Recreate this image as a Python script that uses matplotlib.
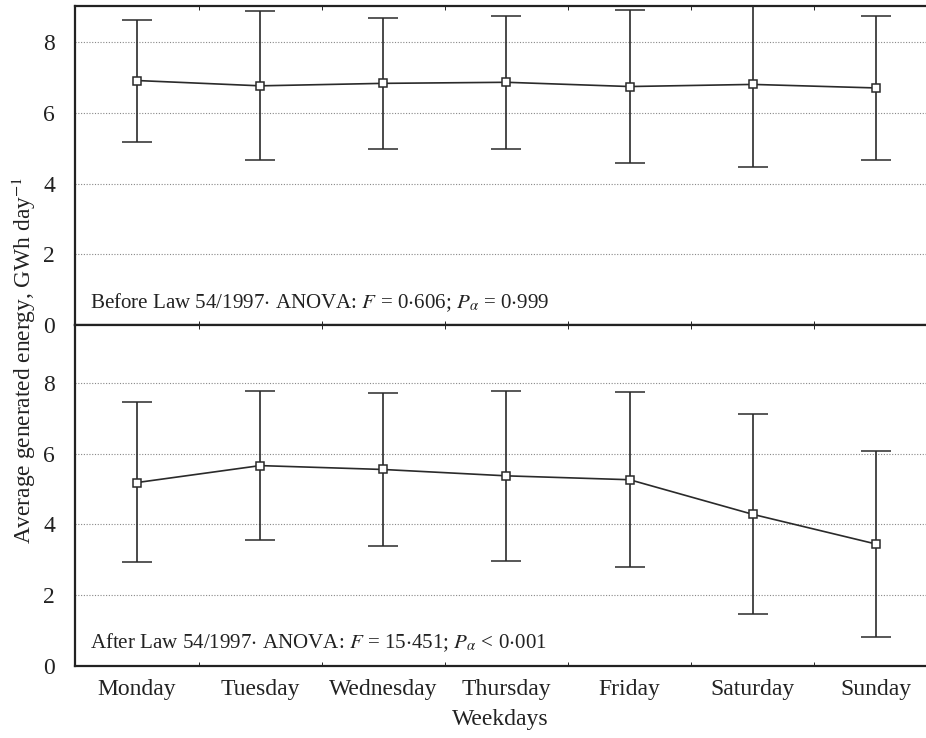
import matplotlib.pyplot as plt

days = ['Monday', 'Tuesday', 'Wednesday', 'Thursday', 'Friday', 'Saturday', 'Sunday']

# before Law 54/1997
before_mean = [6.92, 6.77, 6.84, 6.87, 6.75, 6.81, 6.71]
before_upper = [8.64, 8.88, 8.69, 8.75, 8.92, 9.14, 8.75]
before_lower = [5.19, 4.66, 4.98, 4.98, 4.59, 4.48, 4.66]

# after Law 54/1997
after_mean = [5.18, 5.66, 5.55, 5.37, 5.26, 4.28, 3.44]
after_upper = [7.46, 7.77, 7.72, 7.76, 7.73, 7.13, 6.07]
after_lower = [2.92, 3.56, 3.38, 2.96, 2.80, 1.45, 0.81]

before_text = 'Before Law 54/1997$\\cdot$ ANOVA: $F$ = 0$\\cdot$606; $P_\\alpha$ = 0$\\cdot$999'
after_text = 'After Law 54/1997$\\cdot$ ANOVA: $F$ = 15$\\cdot$451; $P_\\alpha$ < 0$\\cdot$001'

plt.rcParams['font.family'] = ['Liberation Serif', 'DejaVu Serif']
plt.rcParams['mathtext.fontset'] = 'stix'

fig = plt.figure(figsize=(9.26, 7.38), dpi=100)
ax1 = fig.add_axes([0.0805, 0.5596, 0.9195, 0.4323])
ax2 = fig.add_axes([0.0805, 0.0982, 0.9195, 0.4614])

x = list(range(len(days)))
col = '#2a2a2a'


def draw(ax, mean, upper, lower, ytop, label):
    yerr = [[m - l for m, l in zip(mean, lower)], [u - m for u, m in zip(upper, mean)]]
    ax.errorbar(x, mean, yerr=yerr, color=col, lw=1.2, elinewidth=1.2,
                capsize=11, capthick=1.4, marker='s', markersize=6,
                markerfacecolor='white', markeredgecolor=col, markeredgewidth=1.1,
                zorder=3)
    ax.set_xlim(-0.507, 6.406)
    ax.set_ylim(0, ytop)
    ax.set_yticks([0, 2, 4, 6, 8])
    for g in [2, 4, 6, 8]:
        ax.axhline(g, color='#888888', lw=0.8, ls=(0, (1, 1.5)), zorder=1)
    ax.spines['right'].set_visible(False)
    for s in ['left', 'top', 'bottom']:
        ax.spines[s].set_linewidth(1.6)
        ax.spines[s].set_color('#222222')
    ax.tick_params(axis='y', length=0, pad=14, labelsize=17, colors='#222222')
    ax.set_xticks([i + 0.5 for i in range(6)], minor=True)
    ax.tick_params(axis='x', which='minor', direction='in', length=3, top=True, bottom=True)
    ax.text(0.018, 0.035 * 9.0 / ytop, label, transform=ax.transAxes, fontsize=15.1,
            color='#222222', va='bottom', ha='left')


draw(ax1, before_mean, before_upper, before_lower, 9.03, before_text)
draw(ax2, after_mean, after_upper, after_lower, 9.64, after_text)

ax1.set_xticks([])
ax2.set_xticks(x)
ax2.set_xticklabels(days, fontsize=17, color='#222222')
ax2.tick_params(axis='x', which='major', length=0, pad=10)
ax2.set_xlabel('Weekdays', fontsize=17, color='#222222', labelpad=6)

fig.text(0.026, 0.512, 'Average generated energy, GWh day$^{-1}$', rotation=90,
         fontsize=16.8, color='#222222', va='center', ha='center')

fig.savefig('out.png', dpi=100)
